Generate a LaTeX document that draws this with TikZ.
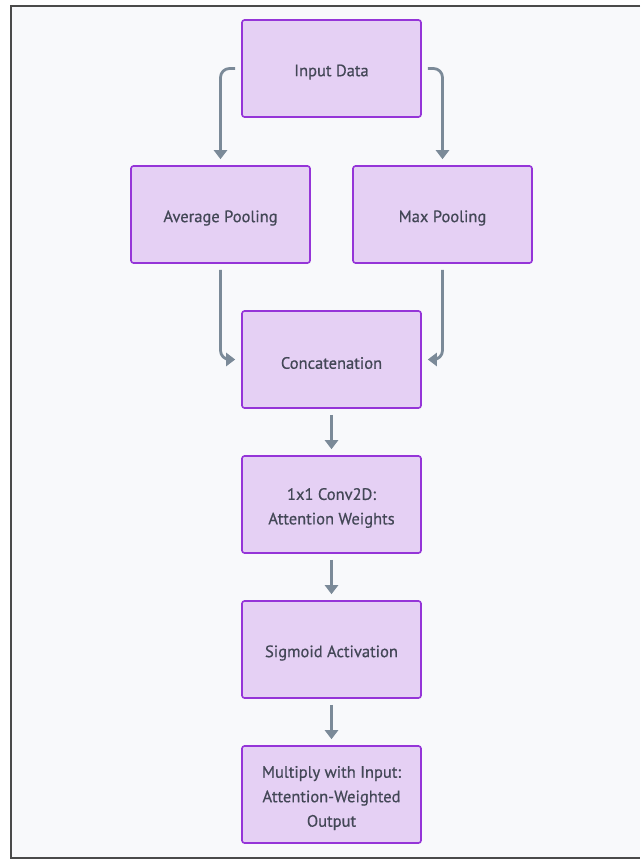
\documentclass[tikz,border=0pt]{standalone}
\usepackage{fontspec}
\setmainfont{PT Sans}
\newfontfamily\boxfont{PT Sans}[FakeBold=0.6]
\usetikzlibrary{arrows.meta}
\definecolor{bgc}{HTML}{F8F9FB}
\definecolor{framec}{HTML}{4A4A4A}
\definecolor{boxfill}{HTML}{E5D0F4}
\definecolor{boxdraw}{HTML}{9535D8}
\definecolor{txtc}{HTML}{434756}
\definecolor{arrc}{HTML}{7B8A98}
\tikzset{
  x=1pt, y=-1pt,
  box/.style={draw=boxdraw, fill=boxfill, line width=1.6pt, rounded corners=2.5pt,
    minimum width=179pt, minimum height=97pt, inner sep=0pt},
  lbl/.style={align=center, text=txtc, yshift=-3.5pt, inner sep=0pt,
    font=\boxfont\fontsize{16.5}{24.5}\selectfont},
  conn/.style={draw=arrc, line width=2.8pt, rounded corners=9pt,
    -{Triangle[width=13pt,length=9pt]}}
}
\begin{document}
\begin{tikzpicture}
\useasboundingbox (0,0) rectangle (640,861);
\fill[white] (0,0) rectangle (640,861);
\fill[bgc] (11,6) rectangle (640,858);
\draw[framec, line width=1.4pt] (640,6) -- (11,6) -- (11,858) -- (640,858);

\node[box, label={[lbl]center:Input Data}]         (inp)  at (331.5,68.5)  {};
\node[box, label={[lbl]center:Average Pooling}]    (avg)  at (220.5,214.5) {};
\node[box, label={[lbl]center:Max Pooling}]        (mx)   at (442.5,214.5) {};
\node[box, label={[lbl]center:Concatenation}]      (cat)  at (331.5,359.5) {};
\node[box, label={[lbl]center:{1x1 Conv2D:\\Attention Weights}}] (conv) at (331.5,504.5) {};
\node[box, label={[lbl]center:Sigmoid Activation}] (sig)  at (331.5,649.5) {};
\node[box, label={[lbl]center:{Multiply with Input:\\Attention-Weighted\\Output}}] (mul) at (331.5,794.5) {};

\draw[conn] ([xshift=-6pt]inp.west) -| ([yshift=6pt]avg.north);
\draw[conn] ([xshift=6pt]inp.east) -| ([yshift=6pt]mx.north);
\draw[conn] ([yshift=-6pt]avg.south) |- ([xshift=-6pt]cat.west);
\draw[conn] ([yshift=-6pt]mx.south) |- ([xshift=6pt]cat.east);
\draw[conn] ([yshift=-6pt]cat.south) -- ([yshift=6pt]conv.north);
\draw[conn] ([yshift=-6pt]conv.south) -- ([yshift=6pt]sig.north);
\draw[conn] ([yshift=-6pt]sig.south) -- ([yshift=6pt]mul.north);
\end{tikzpicture}
\end{document}
